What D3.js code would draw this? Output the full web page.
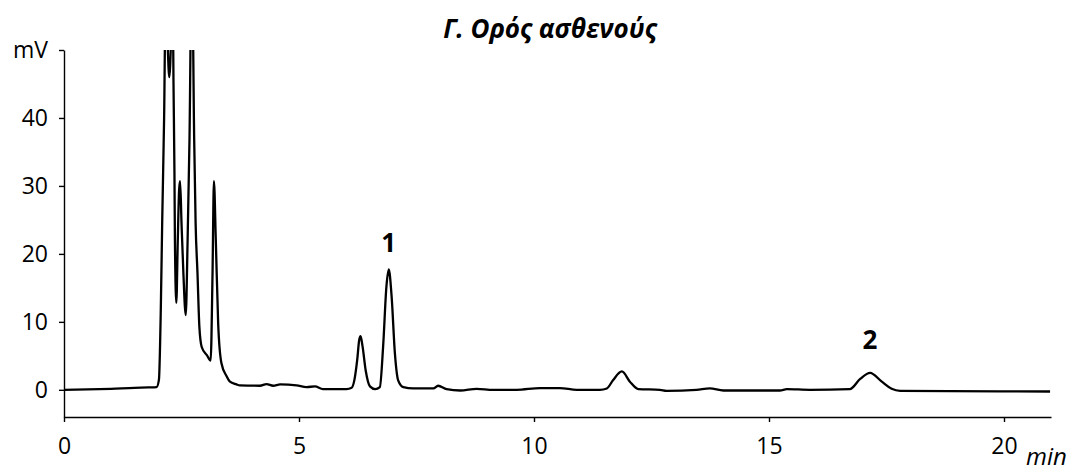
<!DOCTYPE html>
<html>
<head>
<meta charset="utf-8">
<script src="https://cdn.jsdelivr.net/npm/d3@7"></script>
<style>
  body { margin: 0; background: #fff; }
  .axis path, .axis line { stroke: #000; stroke-width: 1.4px; }
  .axis text { font-family: "Open Sans", sans-serif; font-size: 23px; fill: #000; }
</style>
</head>
<body>
<script>
// chromatogram: time (min) and signal (mV)
var times = [0, 0.5, 1.0, 1.5, 1.8, 1.97, 2.02, 2.06, 2.09, 2.13, 2.17, 2.21, 2.24, 2.28, 2.31, 2.33, 2.35, 2.36, 2.39,
  2.42, 2.45, 2.47, 2.50, 2.54, 2.59, 2.63, 2.67, 2.72, 2.77, 2.80, 2.84, 2.88, 2.93, 3.04, 3.12, 3.16, 3.19, 3.23,
  3.28, 3.35, 3.46, 3.53, 3.67, 3.74, 4.17, 4.31, 4.45, 4.60, 4.95, 5.16, 5.34, 5.51, 6.01, 6.12, 6.18, 6.24, 6.28,
  6.31, 6.35, 6.42, 6.51, 6.62, 6.72, 6.79, 6.86, 6.91, 6.97, 7.04, 7.11, 7.22, 7.43, 7.86, 7.96, 8.14, 8.43, 8.78,
  9.13, 9.63, 10.13, 10.55, 10.91, 11.4, 11.55, 11.68, 11.87, 12.04, 12.22, 12.68, 12.82, 13.46, 13.74, 14.03,
  15.23, 15.38, 15.87, 16.72, 16.94, 17.15, 17.4, 17.61, 17.79, 20.98];
var signal = [0, 0.05, 0.15, 0.3, 0.35, 0.4, 1.5, 12, 25, 40, 62, 50, 46, 52, 60, 45, 32, 22, 12.8,
  21.7, 29.5, 30.7, 24.6, 17.2, 11, 22, 36.8, 64, 36.8, 24.6, 17.2, 9.3, 6.3, 5.1, 4.3, 17, 30.7, 22,
  9.8, 3.9, 2.0, 1.2, 0.8, 0.65, 0.6, 0.83, 0.6, 0.8, 0.65, 0.4, 0.5, 0.1, 0.1, 0.3, 1.5, 4.5, 7.3,
  7.9, 6.5, 2.8, 0.5, 0.1, 0.4, 6.4, 15.2, 17.7, 13.8, 5.4, 1.4, 0.4, 0.2, 0.2, 0.6, 0.1, -0.1, 0.15,
  0, 0, 0.25, 0.25, 0, 0, 0.2, 1.4, 2.7, 1.2, 0.1, 0, -0.15, 0, 0.2, -0.1,
  -0.1, 0.1, 0, 0.1, 1.6, 2.5, 1.2, 0.15, -0.15, -0.25];

var yTicks = [0, 10, 20, 30, 40, 50];
var xTicks = [0, 5, 10, 15, 20];
var peakLabels = ["1", "2"];
var peakTimes = [6.91, 17.15];
var peakLabelLevels = [20.3, 6.0];

(function(){
  var width = 1078, height = 472;
  var plotLeft = 64, plotRight = 1051, plotTop = 50, plotBottom = 417;

  var svg = d3.select("body").append("svg")
    .attr("width", width)
    .attr("height", height);

  var x = d3.scaleLinear().domain([0, 21]).range([plotLeft, plotRight]);
  var y = d3.scaleLinear().domain([-4, 50]).range([plotBottom, plotTop]);

  //clip the tall peaks at the top of the frame
  svg.append("clipPath").attr("id", "plotClip")
    .append("rect")
    .attr("x", plotLeft).attr("y", plotTop)
    .attr("width", plotRight - plotLeft + 2).attr("height", plotBottom - plotTop);

  var points = times.map(function(t, i){ return [t, signal[i]]; });

  var line = d3.line()
    .x(function(d){ return x(d[0]); })
    .y(function(d){ return y(d[1]); })
    .curve(d3.curveMonotoneX);

  svg.append("path")
    .datum(points)
    .attr("clip-path", "url(#plotClip)")
    .attr("fill", "none")
    .attr("stroke", "#000")
    .attr("stroke-width", 2.3)
    .attr("stroke-linejoin", "round")
    .attr("d", line);

  //y axis, top tick carries the unit
  svg.append("g")
    .attr("class", "axis")
    .attr("transform", "translate(" + plotLeft + ",0)")
    .call(d3.axisLeft(y)
      .tickValues(yTicks)
      .tickSize(5)
      .tickPadding(11)
      .tickSizeOuter(0)
      .tickFormat(function(d){ return d === 50 ? "mV" : d; }));

  //x axis
  svg.append("g")
    .attr("class", "axis")
    .attr("transform", "translate(0," + plotBottom + ")")
    .call(d3.axisBottom(x)
      .tickValues(xTicks)
      .tickSize(5)
      .tickPadding(16)
      .tickSizeOuter(0));

  svg.append("text")
    .attr("x", 1026)
    .attr("y", 465)
    .style("font-family", "'Open Sans', sans-serif")
    .style("font-size", "24px")
    .style("font-style", "italic")
    .text("min");

  //title
  svg.append("text")
    .attr("x", 550)
    .attr("y", 38)
    .attr("text-anchor", "middle")
    .style("font-family", "'Open Sans', sans-serif")
    .style("font-size", "26px")
    .style("font-style", "italic")
    .style("font-weight", "bold")
    .text("Γ. Ορός ασθενούς");

  //peak numbers
  svg.selectAll(".peakLabel")
    .data(peakLabels)
    .enter()
    .append("text")
    .attr("class", "peakLabel")
    .attr("x", function(d, i){ return x(peakTimes[i]); })
    .attr("y", function(d, i){ return y(peakLabelLevels[i]); })
    .attr("text-anchor", "middle")
    .style("font-family", "'Open Sans', sans-serif")
    .style("font-size", "26px")
    .style("font-weight", "bold")
    .text(function(d){ return d; });
})();
</script>
</body>
</html>
